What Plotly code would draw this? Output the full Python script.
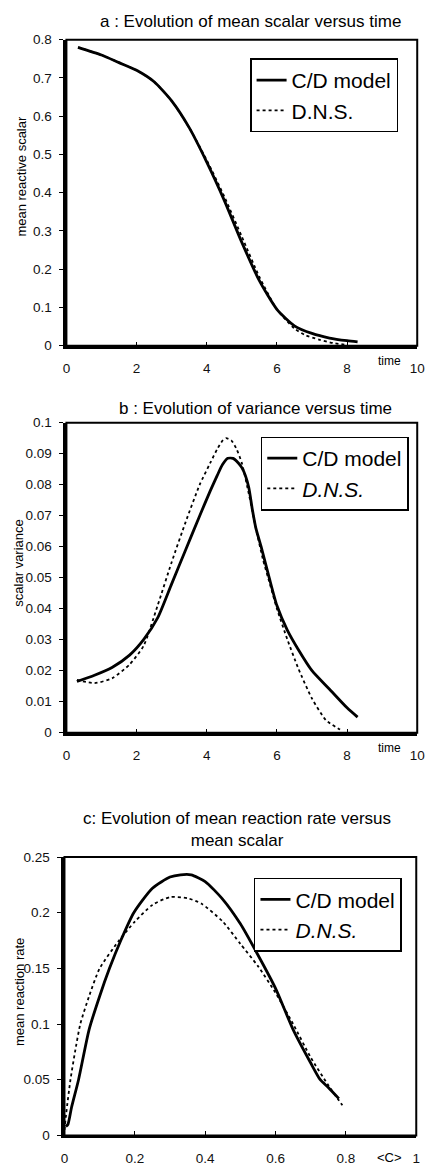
import plotly.graph_objects as go

# ---------------- data ----------------
# Panel a: mean scalar vs time
a_cd_t = [0.33, 1.0, 1.5, 2.0, 2.5, 3.0, 3.5, 4.0, 4.5, 5.0, 5.5, 6.0, 6.5, 7.0, 7.5, 8.0, 8.3]
a_cd_v = [0.78, 0.76, 0.74, 0.72, 0.69, 0.64, 0.57, 0.48, 0.38, 0.27, 0.17, 0.095, 0.052, 0.032, 0.02, 0.013, 0.01]
a_dns_t = [0.33, 1.0, 1.5, 2.0, 2.5, 3.0, 3.5, 4.0, 4.5, 5.0, 5.5, 6.0, 6.5, 6.8, 7.2, 7.6, 8.0]
a_dns_v = [0.78, 0.76, 0.74, 0.72, 0.69, 0.64, 0.57, 0.485, 0.39, 0.285, 0.18, 0.095, 0.045, 0.028, 0.016, 0.007, 0.002]

# Panel b: variance vs time
b_cd_t = [0.3, 0.8, 1.3, 1.8, 2.2, 2.6, 3.0, 3.4, 3.8, 4.1, 4.3, 4.45, 4.6, 4.75, 4.9, 5.0, 5.1, 5.2, 5.3, 5.4, 5.55, 5.78, 6.0, 6.3, 6.6, 7.0, 7.5, 8.0, 8.3]
b_cd_v = [0.0165, 0.0185, 0.021, 0.025, 0.030, 0.037, 0.048, 0.059, 0.070, 0.078, 0.083, 0.0865, 0.0885, 0.0885, 0.087, 0.0855, 0.083, 0.079, 0.072, 0.066, 0.060, 0.050, 0.041, 0.033, 0.027, 0.020, 0.014, 0.008, 0.005]
b_dns_t = [0.3, 0.8, 1.3, 1.8, 2.2, 2.6, 3.0, 3.4, 3.8, 4.1, 4.3, 4.45, 4.55, 4.7, 4.85, 5.0, 5.2, 5.4, 5.6, 5.8, 6.0, 6.3, 6.6, 7.0, 7.4, 7.8]
b_dns_v = [0.017, 0.016, 0.0175, 0.022, 0.028, 0.041, 0.055, 0.068, 0.080, 0.087, 0.0915, 0.0942, 0.095, 0.0943, 0.0915, 0.087, 0.077, 0.066, 0.056, 0.048, 0.040, 0.030, 0.021, 0.011, 0.004, 0.001]

# Panel c: mean reaction rate vs mean scalar
c_cd_c = [0.004, 0.01, 0.02, 0.04, 0.07, 0.1, 0.128, 0.16, 0.197, 0.25, 0.3, 0.33, 0.36, 0.4, 0.45, 0.5, 0.55, 0.6, 0.65, 0.7, 0.727, 0.75, 0.78]
c_cd_r = [0.008, 0.01, 0.025, 0.05, 0.095, 0.125, 0.15, 0.175, 0.2, 0.222, 0.232, 0.234, 0.234, 0.228, 0.212, 0.19, 0.162, 0.132, 0.095, 0.065, 0.05, 0.043, 0.033]
c_dns_c = [0.0, 0.005, 0.017, 0.03, 0.045, 0.07, 0.1, 0.155, 0.2, 0.25, 0.3, 0.35, 0.39, 0.45, 0.5, 0.55, 0.6, 0.65, 0.7, 0.75, 0.79]
c_dns_r = [0.005, 0.02, 0.05, 0.075, 0.1, 0.125, 0.15, 0.175, 0.192, 0.207, 0.214, 0.213, 0.208, 0.192, 0.172, 0.152, 0.128, 0.1, 0.07, 0.045, 0.027]

titles = ["a : Evolution of mean scalar versus time",
          "b : Evolution of variance versus time",
          "c: Evolution of mean reaction rate versus<br>mean scalar"]
ytitles = ["mean reactive scalar", "scalar variance", "mean reaction rate"]
series_names = ["C/D model", "D.N.S."]

# ---------------- layout helpers ----------------
OFF = 8  # default page body margin
W, H = 433 - OFF, 1173 - OFF
def px(x):
    return (x - OFF) / W
def py(y):
    return 1 - (y - OFF) / H

FONT = "Arial"
fig = go.Figure()

solid = dict(color="black", width=2.8, shape="spline", smoothing=0.6)
dotted = dict(color="black", width=1.8, dash="dot", shape="spline", smoothing=0.6)

fig.add_trace(go.Scatter(x=a_cd_t, y=a_cd_v, mode="lines", line=solid, name=series_names[0],
                         xaxis="x", yaxis="y", legend="legend"))
fig.add_trace(go.Scatter(x=a_dns_t, y=a_dns_v, mode="lines", line=dotted, name=series_names[1],
                         xaxis="x", yaxis="y", legend="legend"))
fig.add_trace(go.Scatter(x=b_cd_t, y=b_cd_v, mode="lines", line=solid, name=series_names[0],
                         xaxis="x2", yaxis="y2", legend="legend2"))
fig.add_trace(go.Scatter(x=b_dns_t, y=b_dns_v, mode="lines", line=dotted, name="<i>" + series_names[1] + "</i>",
                         xaxis="x2", yaxis="y2", legend="legend2"))
fig.add_trace(go.Scatter(x=c_cd_c, y=c_cd_r, mode="lines", line=solid, name=series_names[0],
                         xaxis="x3", yaxis="y3", legend="legend3"))
fig.add_trace(go.Scatter(x=c_dns_c, y=c_dns_r, mode="lines", line=dotted, name="<i>" + series_names[1] + "</i>",
                         xaxis="x3", yaxis="y3", legend="legend3"))

# plot areas in page pixels: (left, right, top, bottom)
areas = [(64, 425, 33, 343), (64, 425, 421, 735), (62, 424, 861, 1143)]

tickfont = dict(family=FONT, size=13.5, color="#111")

def xaxis(i, rng, dtick):
    l, r, t, b = areas[i]
    return dict(domain=[px(l), px(r)], range=rng, dtick=dtick, anchor=["y", "y2", "y3"][i],
                showgrid=False, zeroline=False, showline=True, linecolor="black", linewidth=3,
                ticks="inside", ticklen=4, tickcolor="black", tickwidth=1.3, tickfont=tickfont,
                ticklabelstandoff=8, ticklabeloverflow="allow")

def yaxis(i, rng, dtick):
    l, r, t, b = areas[i]
    return dict(domain=[py(b), py(t)], range=rng, dtick=dtick, anchor=["x", "x2", "x3"][i],
                showgrid=False, zeroline=False, showline=True, linecolor="black", linewidth=3,
                ticks="outside", ticklen=4, tickcolor="black", tickwidth=1.3, tickfont=tickfont,
                ticklabelstandoff=5, ticklabeloverflow="allow")

def legend(l, t):
    return dict(x=px(l), y=py(t), xanchor="left", yanchor="top", bgcolor="white",
                bordercolor="black", borderwidth=1.5, font=dict(family=FONT, size=21, color="black"),
                tracegroupgap=0)

annotations = []
title_pos = [(253, 15), (259, 407), (240, 833)]
for i in range(3):
    annotations.append(dict(text=titles[i], x=px(title_pos[i][0]), y=py(title_pos[i][1]),
                            xref="paper", yref="paper", showarrow=False,
                            font=dict(family=FONT, size=17, color="black"),
                            xanchor="center", yanchor="middle"))
yt_pos = [(18, 171), (15, 563), (15, 998)]
for i in range(3):
    annotations.append(dict(text=ytitles[i], x=px(yt_pos[i][0]), y=py(yt_pos[i][1]), xref="paper", yref="paper",
                            showarrow=False, textangle=-90, font=dict(family=FONT, size=13, color="black"),
                            xanchor="center", yanchor="middle"))
annotations.append(dict(text="time", x=9.2, y=py(359), xref="x", yref="paper", showarrow=False,
                        font=dict(family=FONT, size=12, color="black"), yanchor="middle"))
annotations.append(dict(text="time", x=9.2, y=py(751), xref="x2", yref="paper", showarrow=False,
                        font=dict(family=FONT, size=12, color="black"), yanchor="middle"))
annotations.append(dict(text="&lt;C&gt;", x=0.925, y=py(1165), xref="x3", yref="paper", showarrow=False,
                        font=dict(family=FONT, size=13, color="black"), yanchor="middle"))

shapes = []
for xr, yr in [("x", "y"), ("x2", "y2"), ("x3", "y3")]:
    shapes.append(dict(type="rect", xref=xr + " domain", yref=yr + " domain", x0=0, x1=1, y0=0, y1=1,
                       line=dict(color="black", width=2), layer="above"))

fig.update_layout(
    width=W, height=H, margin=dict(l=0, r=0, t=0, b=0),
    paper_bgcolor="white", plot_bgcolor="white",
    xaxis=xaxis(0, [0, 10], 2), yaxis=yaxis(0, [0, 0.8], 0.1),
    xaxis2=xaxis(1, [0, 10], 2), yaxis2=yaxis(1, [0, 0.1], 0.01),
    xaxis3=xaxis(2, [0, 1], 0.2), yaxis3=yaxis(2, [0, 0.25], 0.05),
    legend=legend(253, 52), legend2=legend(264, 435), legend3=legend(257, 882),
    annotations=annotations, shapes=shapes, showlegend=True,
)

fig.write_html("out.html")
